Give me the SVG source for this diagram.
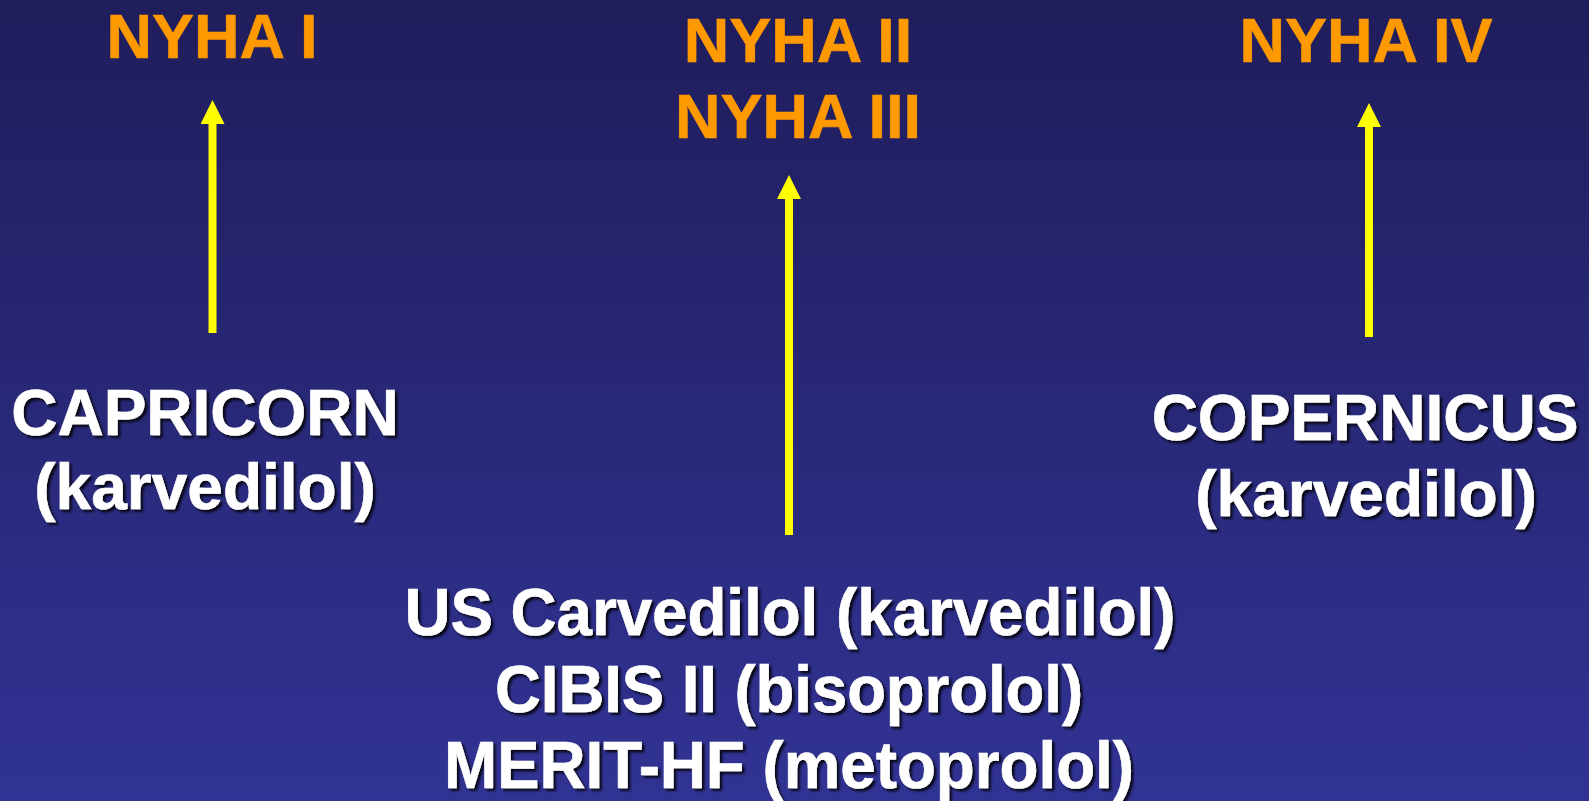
<svg xmlns="http://www.w3.org/2000/svg" width="1589" height="801" viewBox="0 0 1589 801">
<defs>
<linearGradient id="bg" x1="0" y1="0" x2="0" y2="1">
<stop offset="0" stop-color="#1f1d5b"/>
<stop offset="1" stop-color="#313394"/>
</linearGradient>
<filter id="sh" x="-10%" y="-30%" width="120%" height="160%">
<feDropShadow dx="2.5" dy="2.5" stdDeviation="1.2" flood-color="#000" flood-opacity="0.85"/>
</filter>
<marker id="ah" markerUnits="userSpaceOnUse" markerWidth="24" markerHeight="24" refX="0" refY="12" orient="auto" viewBox="0 0 24 24">
<path d="M0,0 L24,12 L0,24 Z" fill="#ffff00"/>
</marker>
<style>
.nyha{font-family:"Liberation Sans",Arial,sans-serif;font-weight:bold;font-size:63px;fill:#ff9900;text-anchor:middle;stroke:#ff9900;stroke-width:0.6}
.trial{font-family:"Liberation Sans",Arial,sans-serif;font-weight:bold;font-size:64px;fill:#ffffff;text-anchor:middle;filter:url(#sh);stroke:#ffffff;stroke-width:0.6}
.big{font-size:66px}
.arr{stroke:#ffff00;stroke-width:8;fill:none;marker-end:url(#ah)}
</style>
</defs>
<rect x="0" y="0" width="1589" height="801" fill="url(#bg)"/>
<g id="nyha1"><text class="nyha" x="212" y="58">NYHA I</text></g>
<g id="nyha23"><text class="nyha" x="798" y="62">NYHA II</text><text class="nyha" x="798" y="138">NYHA III</text></g>
<g id="nyha4"><text class="nyha" x="1366" y="62">NYHA IV</text></g>
<g id="capricorn"><text class="trial" x="205" y="435">CAPRICORN</text><text class="trial" x="205" y="509">(karvedilol)</text></g>
<g id="copernicus"><text class="trial" x="1365" y="440">COPERNICUS</text><text class="trial" x="1366" y="516">(karvedilol)</text></g>
<g id="middle"><text class="trial big" x="790" y="635" textLength="771" lengthAdjust="spacingAndGlyphs">US Carvedilol (karvedilol)</text><text class="trial big" x="789" y="712" textLength="588" lengthAdjust="spacingAndGlyphs">CIBIS II (bisoprolol)</text><text class="trial big" x="789" y="788" textLength="690" lengthAdjust="spacingAndGlyphs">MERIT-HF (metoprolol)</text></g>
<g id="connectors">
<line class="arr" x1="212.5" y1="333" x2="212.5" y2="124"/>
<line class="arr" x1="789" y1="535" x2="789" y2="199"/>
<line class="arr" x1="1369" y1="337" x2="1369" y2="127"/>
</g>
</svg>
